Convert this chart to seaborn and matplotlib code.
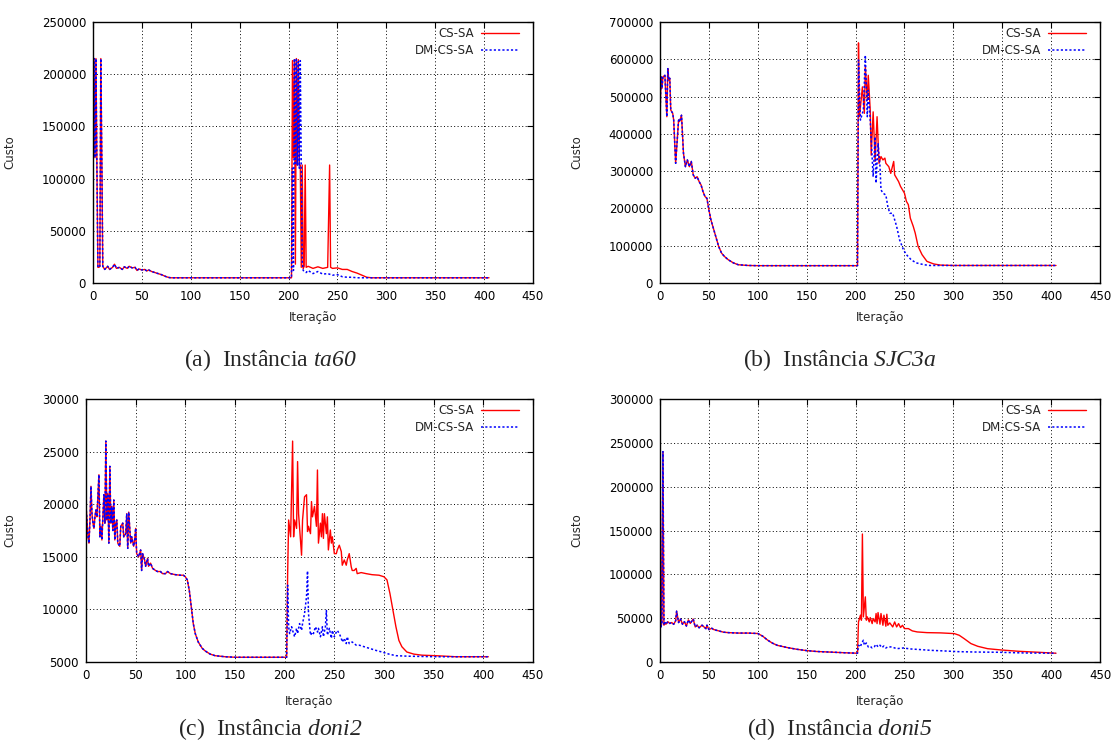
import matplotlib
matplotlib.use("Agg")
import matplotlib.pyplot as plt
import seaborn as sns

# ---------- data ----------
# (a) ta60 - first part is the same for both algorithms
a_iter_common = [0, 1, 2, 3, 4, 5, 6, 7, 8, 9, 10, 12, 15, 17, 20, 22, 24, 27, 30, 32, 35, 37, 40, 43, 45,
                 47, 50, 53, 55, 57, 60, 65, 70, 75, 78, 80, 120, 160, 203]
a_cost_common = [115000, 215000, 120000, 215000, 112000, 15000, 15000, 16000, 215000, 120000, 16000, 13000,
                 16000, 13000, 15000, 18000, 14000, 15000, 13000, 15500, 14000, 16000, 14500, 15000, 12000,
                 13500, 12500, 13000, 11500, 12500, 11000, 9500, 8000, 6000, 5200, 5000, 5000, 5000, 5000]
a_iter_cs = [204, 205, 206, 207, 208, 209, 210, 211, 212, 213, 214, 215, 216, 217, 218, 220, 225, 230, 235,
             240, 242, 243, 245, 250, 255, 260, 265, 270, 275, 280, 285, 405]
a_cost_cs = [213000, 120000, 214000, 18000, 215000, 113000, 214000, 113000, 113000, 15000, 113000, 14000,
             16000, 113000, 15000, 16000, 14000, 15500, 14000, 15000, 113000, 15000, 14000, 14500, 13000,
             13000, 11000, 9500, 7500, 5500, 5000, 5000]
a_iter_dm = [204, 205, 206, 207, 208, 209, 210, 211, 212, 213, 214, 215, 218, 220, 225, 230, 235, 240, 245,
             250, 255, 260, 265, 270, 405]
a_cost_dm = [110000, 12000, 215000, 113000, 214000, 113000, 212000, 110000, 213000, 113000, 20000, 12000,
             10000, 12000, 9000, 11000, 8500, 9000, 7500, 8000, 6000, 5500, 5500, 5000, 5000]

# (b) SJC3a
b_iter_common = [0, 1, 2, 3, 5, 7, 8, 9, 10, 11, 13, 14, 16, 19, 20, 22, 24, 26, 28, 30, 32, 34, 36, 38, 40,
                 42, 44, 46, 48, 50, 52, 55, 57, 60, 63, 66, 70, 75, 80, 90, 100, 150, 202]
b_cost_common = [437000, 553000, 522000, 553000, 557000, 446000, 575000, 544000, 549000, 464000, 455000,
                 437000, 321000, 437000, 433000, 450000, 348000, 312000, 330000, 312000, 326000, 290000,
                 281000, 285000, 272000, 263000, 245000, 232000, 227000, 196000, 170000, 143000, 125000,
                 98000, 80000, 71000, 62000, 54000, 49000, 47000, 46500, 46500, 46500]
b_iter_cs = [203, 204, 207, 209, 210, 212, 213, 215, 216, 218, 220, 222, 224, 226, 228, 230, 231, 234, 236,
             237, 239, 240, 244, 246, 250, 252, 254, 256, 259, 261, 264, 268, 273, 280, 287, 300, 405]
b_cost_cs = [644000, 446000, 526000, 455000, 580000, 490000, 557000, 464000, 343000, 459000, 326000,
             446000, 321000, 339000, 330000, 335000, 321000, 312000, 294000, 305000, 326000, 290000,
             272000, 259000, 241000, 219000, 210000, 174000, 152000, 134000, 98000, 76000, 58000, 51000,
             48000, 47000, 47000]
b_iter_dm = [203, 205, 208, 210, 212, 213, 215, 216, 218, 220, 221, 223, 225, 226, 228, 231, 233, 235, 238,
             242, 245, 249, 252, 257, 262, 270, 276, 405]
b_cost_dm = [598000, 437000, 464000, 611000, 446000, 517000, 437000, 384000, 285000, 392000, 268000,
             375000, 312000, 250000, 241000, 236000, 205000, 187000, 187000, 152000, 116000, 89000,
             76000, 62000, 54000, 49000, 47000, 47000]

# (c) doni2
c_iter_common = [0, 1, 2, 3, 4, 5, 6, 7, 8, 9, 10, 11, 13, 14, 15, 16, 17, 18, 19, 20, 21, 22, 23, 24, 25,
                 26, 27, 28, 29, 30, 31, 32, 34, 35, 37, 38, 40, 41, 42, 43, 45, 46, 48, 49, 50, 51, 53,
                 55, 56, 57, 59, 60, 62, 63, 65, 67, 70, 72, 75, 77, 80, 82, 85, 90, 95, 98, 100, 102, 104,
                 106, 108, 110, 113, 117, 120, 125, 130, 140, 150, 202]
c_cost_common = [19800, 18500, 16900, 16300, 18500, 21700, 19100, 18200, 17700, 18800, 19450, 18800, 22800,
                 16900, 17900, 16600, 18800, 20900, 18200, 26000, 18500, 21000, 16300, 23600, 18200,
                 19800, 17500, 20400, 16600, 18200, 18500, 16300, 16000, 17900, 18200, 16900, 17200,
                 19100, 15800, 19250, 16300, 16900, 16000, 16600, 17700, 15300, 15000, 15650, 13700,
                 15300, 14700, 14100, 14850, 14100, 14400, 13900, 13700, 13600, 13600, 13400, 13400,
                 13600, 13400, 13300, 13250, 13250, 13100, 12800, 11800, 10200, 8650, 7700, 6900, 6300,
                 6050, 5750, 5600, 5500, 5450, 5450]
c_iter_cs = [203, 204, 206, 208, 209, 210, 212, 213, 214, 217, 218, 220, 222, 223, 224, 226, 227, 228, 230,
             232, 233, 234, 236, 237, 238, 239, 240, 242, 243, 244, 246, 247, 248, 250, 252, 253, 255,
             257, 258, 260, 262, 263, 265, 267, 268, 270, 272, 273, 277, 282, 288, 295, 300, 303, 306,
             309, 312, 315, 318, 323, 330, 338, 352, 372, 405]
c_cost_cs = [13400, 18500, 16900, 26000, 16900, 18500, 17700, 24050, 19100, 15150, 18500, 20700, 20900,
             17400, 17900, 17200, 20250, 18800, 19800, 17900, 23250, 16300, 18200, 16900, 19100, 16750,
             19100, 17200, 18800, 15650, 17550, 16300, 16900, 15300, 15300, 15650, 16100, 15500, 14200,
             14700, 14200, 14700, 15300, 14050, 13700, 13700, 13900, 13400, 13500, 13400, 13300, 13250,
             13100, 12800, 11500, 9900, 8350, 7050, 6450, 5950, 5750, 5650, 5600, 5500, 5500]
c_iter_dm = [203, 204, 205, 207, 208, 210, 212, 213, 215, 217, 218, 220, 222, 223, 224, 226, 228, 229, 231,
             233, 234, 236, 238, 239, 241, 242, 243, 245, 247, 248, 250, 252, 253, 255, 257, 258, 260,
             262, 263, 265, 268, 272, 275, 280, 285, 292, 298, 305, 312, 325, 352, 405]
c_cost_dm = [12300, 8350, 7700, 8350, 8000, 7400, 8200, 7700, 8650, 8000, 8650, 9600, 11200, 13650, 9600,
             7550, 7850, 7700, 8350, 7850, 8200, 7400, 8350, 7400, 8350, 9900, 7550, 8200, 7250, 8000,
             7400, 7850, 8000, 7700, 7250, 6900, 7250, 6750, 7400, 6750, 6900, 6600, 6600, 6450, 6300,
             6100, 5950, 5750, 5600, 5550, 5500, 5500]

# (d) doni5
d_iter_common = [0, 1, 2, 3, 4, 5, 6, 8, 10, 12, 14, 16, 17, 19, 21, 23, 25, 27, 29, 31, 34, 36, 38, 40, 43,
                 45, 47, 48, 50, 53, 55, 60, 65, 70, 80, 90, 100, 105, 110, 115, 120, 130, 140, 150, 160,
                 170, 180, 190, 202]
d_cost_common = [250000, 40000, 45000, 240000, 42000, 45000, 43000, 46000, 44000, 45000, 43000, 47000,
                 58000, 45000, 49000, 43000, 46000, 41000, 48000, 44000, 49000, 40000, 42000, 39000,
                 42000, 40000, 38000, 42000, 37000, 38500, 37000, 35500, 34000, 33500, 33000, 33000,
                 32500, 29500, 25000, 21500, 19000, 16500, 14500, 13000, 12000, 11500, 11000, 10500,
                 10000]
d_iter_cs = [203, 205, 206, 207, 208, 210, 211, 212, 214, 215, 217, 218, 220, 221, 222, 223, 225, 226, 228,
             229, 231, 232, 233, 235, 238, 240, 242, 244, 246, 248, 250, 254, 258, 263, 273, 287, 301,
             306, 311, 318, 325, 335, 349, 367, 387, 405]
d_cost_cs = [45700, 53400, 47700, 146000, 51500, 74300, 47700, 51500, 45700, 50700, 43800, 49600, 45700,
             55300, 43800, 56400, 43100, 55300, 41900, 53400, 40800, 54500, 41900, 44600, 40000, 45700,
             40000, 43800, 39300, 41900, 38100, 38100, 35500, 34300, 33500, 33200, 32400, 30500, 26700,
             21000, 17900, 15200, 13700, 12200, 11100, 10000]
d_iter_dm = [203, 205, 206, 208, 209, 211, 213, 215, 217, 219, 221, 223, 225, 227, 229, 231, 233, 237, 242,
             249, 256, 267, 277, 291, 305, 322, 346, 373, 405]
d_cost_dm = [19100, 17200, 21000, 24800, 19100, 21700, 17200, 17900, 16000, 17200, 20200, 17200, 19100,
             16400, 18300, 16000, 17200, 17200, 15200, 16000, 14900, 14100, 13300, 12600, 11800, 11400,
             11100, 10300, 10000]

y_limits = [(0, 250000), (0, 700000), (5000, 30000), (0, 300000)]
y_steps = [50000, 100000, 5000, 50000]
caption_tags = ["(a)", "(b)", "(c)", "(d)"]
instances = ["ta60", "SJC3a", "doni2", "doni5"]

# ---------- style ----------
sns.set_theme(style="white")
plt.rcParams["font.family"] = ["DejaVu Sans"]
plt.rcParams["mathtext.fontset"] = "custom"
plt.rcParams["mathtext.rm"] = "Liberation Serif:italic"
plt.rcParams["mathtext.it"] = "Liberation Serif:italic"

fig = plt.figure(figsize=(11.13, 7.44), dpi=100)
W, H = 1113, 744
# axes boxes in pixels: left, top, right, bottom
boxes = [(93, 22, 533, 283), (660, 22, 1100, 283), (86, 399, 533, 662), (660, 399, 1100, 662)]
label_off = [77, 77, 70, 77]
xlabel_y = [317, 317, 701, 701]
cap_pos = [(270, 360), (840, 360), (270, 729), (840, 729)]

panels = [
    (a_iter_common, a_cost_common, a_iter_cs, a_cost_cs, a_iter_dm, a_cost_dm),
    (b_iter_common, b_cost_common, b_iter_cs, b_cost_cs, b_iter_dm, b_cost_dm),
    (c_iter_common, c_cost_common, c_iter_cs, c_cost_cs, c_iter_dm, c_cost_dm),
    (d_iter_common, d_cost_common, d_iter_cs, d_cost_cs, d_iter_dm, d_cost_dm),
]

for i, (xc, yc, xs, ys, xd, yd) in enumerate(panels):
    l, t, r, b = boxes[i]
    ax = fig.add_axes([l / W, 1 - b / H, (r - l) / W, (b - t) / H])
    sns.lineplot(x=xc + xs, y=yc + ys, ax=ax, color="#ff0000", lw=1.0, label="CS-SA",
                 sort=False, estimator=None)
    sns.lineplot(x=xc + xd, y=yc + yd, ax=ax, color="#0000ff", lw=1.1, label="DM-CS-SA",
                 sort=False, estimator=None, linestyle=(0, (1.4, 1.4)))
    ax.set_xlim(0, 450)
    ax.set_ylim(*y_limits[i])
    ax.set_xticks(range(0, 451, 50))
    lo, hi = y_limits[i]
    ax.set_yticks(range(lo, hi + 1, y_steps[i]))
    ax.ticklabel_format(axis="y", style="plain", useOffset=False)
    ax.grid(True, color="black", lw=0.7, linestyle=(0, (1, 2.5)))
    ax.tick_params(direction="in", length=4, width=0.8, top=True, right=True,
                   labelsize=8.5, colors="black", pad=5)
    for sp in ax.spines.values():
        sp.set_color("black")
        sp.set_linewidth(1.0)
    ax.set_xlabel("Iteração", fontsize=8.5)
    ax.set_ylabel("Custo", fontsize=8.5)
    ax.xaxis.label.set_va("center")
    ax.xaxis.set_label_coords(0.5, -(xlabel_y[i] - b) / (b - t))
    ax.yaxis.set_label_coords(-label_off[i] / (r - l), 0.5)
    ax.legend(loc="upper right", frameon=False, markerfirst=False, fontsize=8.5,
              handlelength=3.2, handletextpad=0.6, labelspacing=0.3,
              borderaxespad=0, borderpad=0.2,
              bbox_to_anchor=(1 - 12 / (r - l), 1 - 3 / (b - t)))
    cx, cy = cap_pos[i]
    fig.text(cx / W, 1 - cy / H, caption_tags[i] + "  Instância $\\mathrm{" + instances[i] + "}$",
             ha="center", va="center", fontsize=17, family="Liberation Serif")

fig.savefig("out.png", dpi=100)
